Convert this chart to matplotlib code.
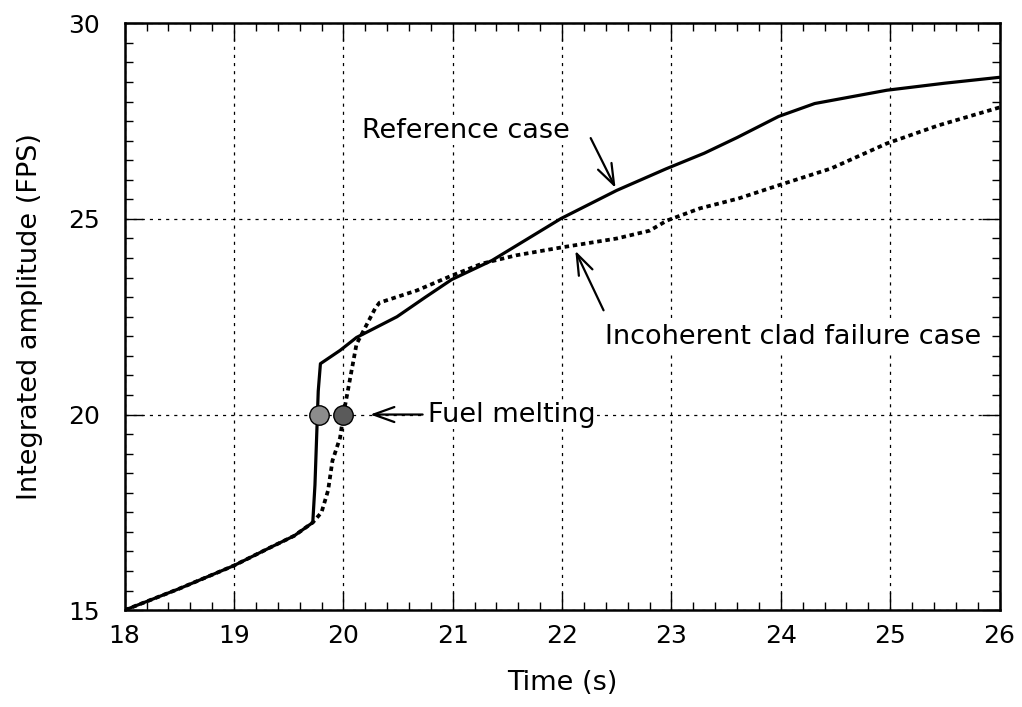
import matplotlib
matplotlib.use("Agg")
import matplotlib.pyplot as plt
from matplotlib.ticker import MultipleLocator

plt.rcParams['font.family'] = ['DejaVu Sans']

# reference case (solid)
t_ref = [18.0, 18.5, 19.0, 19.33, 19.55, 19.72, 19.74, 19.77, 19.79, 19.97, 20.12,
         20.49, 20.75, 20.99, 21.36, 21.99, 22.5, 22.95, 23.3, 23.6, 23.98,
         24.31, 24.97, 25.5, 26.0]
a_ref = [15.0, 15.55, 16.14, 16.6, 16.9, 17.24, 18.2, 20.6, 21.3, 21.64, 21.97,
         22.5, 23.0, 23.45, 23.94, 25.01, 25.73, 26.28, 26.68, 27.08, 27.62,
         27.95, 28.29, 28.47, 28.62]

# incoherent clad failure case (dashed)
t_inc = [18.0, 18.5, 19.0, 19.33, 19.55, 19.72, 19.8, 19.86, 19.9, 19.97, 20.0,
         20.12, 20.29, 20.33, 20.67, 20.99, 21.27, 21.58, 21.99, 22.5, 22.8,
         22.96, 23.26, 23.61, 23.98, 24.46, 24.97, 25.44, 26.0]
a_inc = [15.0, 15.55, 16.14, 16.6, 16.9, 17.24, 17.5, 18.06, 18.82, 19.41, 20.0,
         21.8, 22.71, 22.86, 23.17, 23.55, 23.86, 24.07, 24.27, 24.5, 24.7,
         24.96, 25.27, 25.52, 25.86, 26.29, 26.93, 27.39, 27.85]

# fuel melting points
melt_t = [19.78, 20.0]
melt_a = [20.0, 20.0]
melt_col = ['#8c8c8c', '#5a5a5a']

fig = plt.figure(figsize=(10.22, 7.07), dpi=100)
ax = fig.add_axes([0.122, 0.137, 0.856, 0.830])

ax.plot(t_ref, a_ref, color='black', lw=2.3, solid_capstyle='round', zorder=3)
ax.plot(t_inc, a_inc, color='black', lw=2.7, dashes=(1.2, 1.0), zorder=3)
for t, a, c in zip(melt_t, melt_a, melt_col):
    ax.plot(t, a, 'o', ms=14, mfc=c, mec='black', mew=1.0, zorder=4)

ax.set_xlim(18, 26)
ax.set_ylim(15, 30)
ax.xaxis.set_major_locator(MultipleLocator(1))
ax.xaxis.set_minor_locator(MultipleLocator(0.2))
ax.yaxis.set_major_locator(MultipleLocator(5))
ax.yaxis.set_minor_locator(MultipleLocator(0.5))
ax.tick_params(which='both', direction='in', top=True, right=True, width=1.0)
ax.tick_params(which='major', length=13, labelsize=18)
ax.tick_params(axis='x', which='major', pad=10)
ax.tick_params(axis='y', which='major', pad=18)
ax.tick_params(which='minor', length=6)
for s in ax.spines.values():
    s.set_linewidth(1.8)

ax.grid(True, which='major', color='black', lw=0.9, linestyle=(0, (2.5, 4)))

ax.set_xlabel('Time (s)', fontsize=19.5, labelpad=16)
ax.set_ylabel('Integrated amplitude (FPS)', fontsize=19.5, labelpad=18)

box = dict(facecolor='white', edgecolor='none', pad=1)
arrow = dict(arrowstyle='->,head_length=0.5,head_width=0.18', color='black',
             lw=1.6, mutation_scale=30)

ax.text(20.17, 27.26, 'Reference case', fontsize=19.5, va='center', ha='left',
        bbox=box, zorder=5)
ax.annotate('', xy=(22.5, 25.73), xytext=(22.25, 27.13), arrowprops=arrow, zorder=5)

ax.text(22.39, 21.97, 'Incoherent clad failure case', fontsize=19.5, va='center',
        ha='left', bbox=box, zorder=5)
ax.annotate('', xy=(22.11, 24.25), xytext=(22.39, 22.6), arrowprops=arrow, zorder=5)

ax.text(20.77, 20.0, 'Fuel melting', fontsize=19.5, va='center', ha='left',
        bbox=box, zorder=5)
ax.annotate('', xy=(20.22, 20.0), xytext=(20.75, 20.0), arrowprops=arrow, zorder=5)

fig.savefig('out.png', dpi=100)
